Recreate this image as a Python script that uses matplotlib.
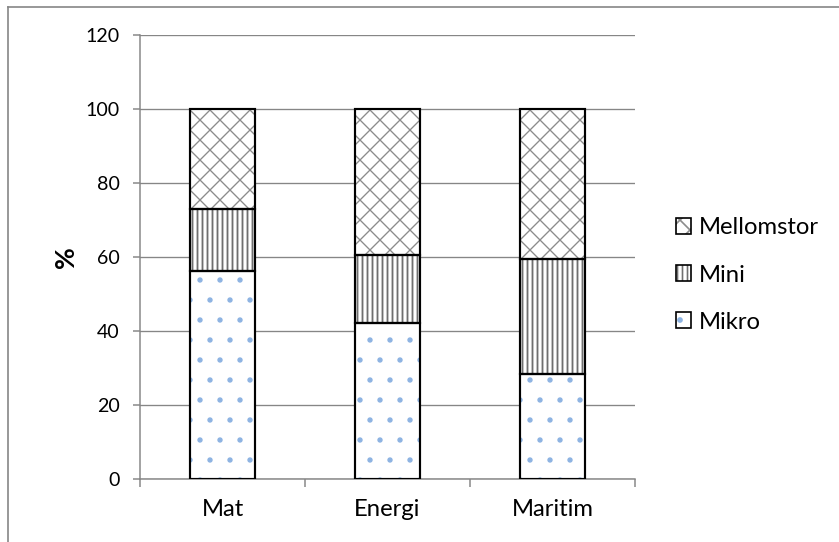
import matplotlib
matplotlib.use("Agg")
import matplotlib.pyplot as plt
from matplotlib.patches import Patch
from matplotlib.lines import Line2D
from matplotlib.legend_handler import HandlerTuple
import numpy as np

plt.rcParams['font.family'] = ['Lato', 'DejaVu Sans']

categories = ['Mat', 'Energi', 'Maritim']
mikro = [56.3, 42.1, 28.3]
mini = [16.6, 18.4, 31.2]
mellomstor = [27.1, 39.5, 40.5]
yticks = [0, 20, 40, 60, 80, 100, 120]

# (label, values, hatch, hatch colour, hatch width), bottom to top
series = [
    ('Mikro', mikro, '.', '#8db3e2', 0.8),
    ('Mini', mini, '||||', '#6f6f6f', 1.1),
    ('Mellomstor', mellomstor, 'xx', '#8c8c8c', 0.8),
]

fig = plt.figure(figsize=(839 / 120, 542 / 120), dpi=120)
ax = fig.add_axes([140 / 839, 1 - 479 / 542, 495 / 839, 444 / 542])

x = np.arange(len(categories))
width = 0.394
bottom = np.zeros(len(categories))
handles = []
for label, vals, hatch, hcol, hlw in series:
    vals = np.array(vals)
    with plt.rc_context({'hatch.linewidth': hlw}):
        # hatched fill first, then a black outline on top
        ax.bar(x, vals, width, bottom=bottom, color='white', edgecolor=hcol,
               hatch=hatch, linewidth=0, zorder=2)
        hp = Patch(facecolor='white', edgecolor=hcol, hatch=hatch, linewidth=0)
    ax.bar(x, vals, width, bottom=bottom, facecolor='none',
           edgecolor='black', linewidth=1.3, zorder=3)
    bottom += vals
    handles.append((hp, Patch(facecolor='none', edgecolor='black', linewidth=1.0)))

ax.set_xlim(-0.5, len(categories) - 0.5)
ax.set_ylim(0, 120)
ax.set_yticks(yticks)
ax.set_xticks(x)
ax.set_xticklabels(categories, fontsize=14.3)
ax.set_xticks(np.arange(len(categories) + 1) - 0.5, minor=True)
ax.tick_params(axis='x', which='major', length=0, pad=12)
ax.tick_params(axis='x', which='minor', length=4.5, width=0.9, color='#868686')
ax.tick_params(axis='y', length=4.2, width=0.9, color='#868686', labelsize=11.8, pad=8)

ax.grid(axis='y', color='#868686', linewidth=0.8, zorder=0)
ax.set_axisbelow(True)
for side in ['top', 'right']:
    ax.spines[side].set_visible(False)
for side in ['left', 'bottom']:
    ax.spines[side].set_color('#868686')
    ax.spines[side].set_linewidth(0.9)

ax.set_ylabel('%', fontsize=16, fontweight='bold', rotation=90)
ax.yaxis.set_label_coords(-0.125, 0.5)

leg = fig.legend(handles[::-1], [s[0] for s in series][::-1],
                 handler_map={tuple: HandlerTuple(ndivide=1)},
                 loc='center left', bbox_to_anchor=(676 / 839, 1 - 275 / 542),
                 frameon=False, fontsize=14.3, handlelength=0.65, handleheight=0.65,
                 handletextpad=0.3, labelspacing=1.1, borderpad=0, borderaxespad=0)

# chart frame
fig.add_artist(Line2D([7.5 / 839, 1], [1 - 6.5 / 542] * 2, color='#868686', linewidth=1.0))
fig.add_artist(Line2D([7.5 / 839] * 2, [0, 1 - 6.5 / 542], color='#868686', linewidth=1.0))

fig.savefig('out.png', dpi=120)
